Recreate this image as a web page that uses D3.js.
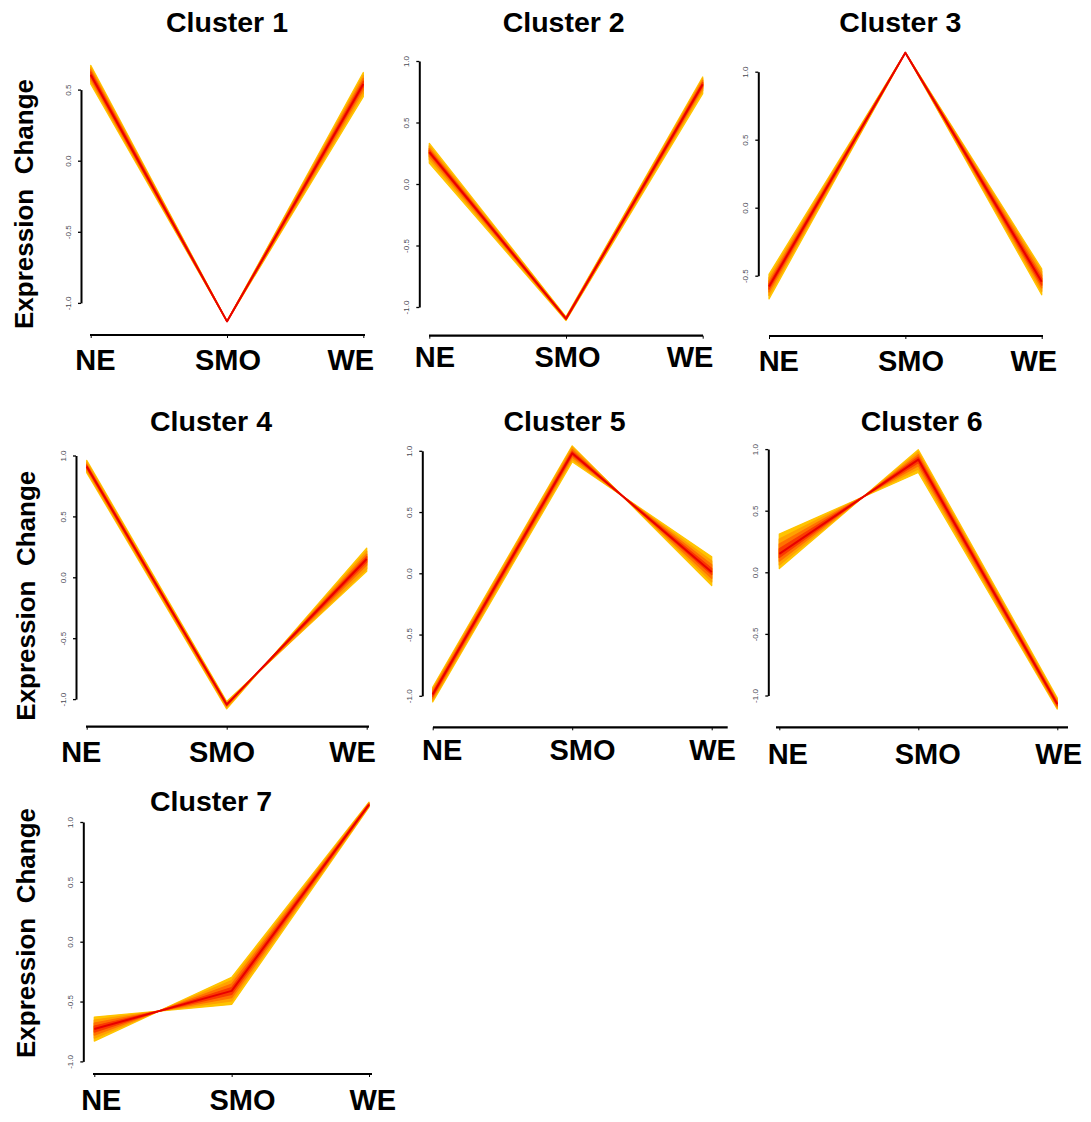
<!DOCTYPE html>
<html>
<head>
<meta charset="utf-8">
<script src="https://cdn.jsdelivr.net/npm/d3@7"></script>
<style>
  body { margin: 0; background: #fff; }
  svg { display: block; background: #fff; }
  text { font-family: "Liberation Sans", Arial, Helvetica, sans-serif; }
</style>
</head>
<body>
<svg id="chart" width="1091" height="1122"></svg>
<script>
// Time points on the x axis
const stages = ["NE", "SMO", "WE"];

const clusterNames = ["Cluster 1", "Cluster 2", "Cluster 3", "Cluster 4", "Cluster 5", "Cluster 6", "Cluster 7"];

// Y tick values of each panel
const yTicks = [
  [-1, -0.5, 0, 0.5],
  [-1, -0.5, 0, 0.5, 1],
  [-0.5, 0, 0.5, 1],
  [-1, -0.5, 0, 0.5, 1],
  [-1, -0.5, 0, 0.5, 1],
  [-1, -0.5, 0, 0.5, 1],
  [-1, -0.5, 0, 0.5, 1]
];

// Membership of each gene profile inside a cluster, edge -> core -> edge
const membership = [0.2, 0.4, 0.6, 0.8, 1.0, 0.8, 0.6, 0.4, 0.2];

// Expression profiles [NE, SMO, WE], ordered across the band
const cluster1 = [
  [0.67, -1.13, 0.62], [0.655, -1.13, 0.60], [0.64, -1.13, 0.58],
  [0.625, -1.13, 0.56], [0.605, -1.13, 0.54], [0.59, -1.13, 0.52],
  [0.575, -1.13, 0.50], [0.56, -1.13, 0.475], [0.54, -1.13, 0.45]
];
const cluster2 = [
  [0.33, -1.08, 0.87], [0.31, -1.085, 0.855], [0.29, -1.09, 0.84],
  [0.275, -1.09, 0.825], [0.26, -1.095, 0.81], [0.245, -1.10, 0.795],
  [0.225, -1.10, 0.78], [0.20, -1.105, 0.76], [0.17, -1.11, 0.735]
];
const cluster3 = [
  [-0.49, 1.14, -0.45], [-0.515, 1.14, -0.47], [-0.54, 1.14, -0.495],
  [-0.56, 1.14, -0.52], [-0.58, 1.14, -0.545], [-0.60, 1.14, -0.57],
  [-0.62, 1.14, -0.59], [-0.645, 1.14, -0.615], [-0.67, 1.14, -0.64]
];
const cluster4 = [
  [0.96, -1.02, 0.05], [0.945, -1.03, 0.07], [0.93, -1.035, 0.10],
  [0.92, -1.04, 0.125], [0.91, -1.045, 0.15], [0.90, -1.05, 0.17],
  [0.89, -1.06, 0.19], [0.875, -1.07, 0.215], [0.86, -1.08, 0.24]
];
const cluster5 = [
  [-0.93, 1.04, -0.10], [-0.945, 1.03, -0.07], [-0.96, 1.01, -0.04],
  [-0.975, 0.995, -0.01], [-0.99, 0.98, 0.01], [-1.005, 0.965, 0.04],
  [-1.02, 0.95, 0.07], [-1.035, 0.93, 0.10], [-1.05, 0.91, 0.135]
];
const cluster6 = [
  [0.31, 0.81, -1.11], [0.27, 0.84, -1.10], [0.23, 0.865, -1.09],
  [0.19, 0.89, -1.08], [0.15, 0.915, -1.07], [0.12, 0.935, -1.06],
  [0.09, 0.955, -1.05], [0.06, 0.975, -1.035], [0.03, 0.995, -1.02]
];
const cluster7 = [
  [-0.63, -0.524, 1.125], [-0.655, -0.495, 1.13], [-0.68, -0.467, 1.135],
  [-0.705, -0.439, 1.14], [-0.73, -0.411, 1.145], [-0.755, -0.383, 1.15],
  [-0.78, -0.354, 1.155], [-0.805, -0.326, 1.16], [-0.83, -0.298, 1.165]
];

const clusters = [cluster1, cluster2, cluster3, cluster4, cluster5, cluster6, cluster7];

// Panel placement in the page (pixels)
const layout = [
  { title: [227, 32],   axisX: 81,    yPx: [302.9, 89.6],  xPx: [90.7, 363.3],   xLine: [90, 365, 335],     labX: [95.5, 228, 350.8],   labY: 370,  yLab: [33, 204] },
  { title: [563.7, 32], axisX: 419.3, yPx: [307, 61],      xPx: [429.3, 702.7],  xLine: [429, 703, 335.7],  labX: [435, 567.5, 690],    labY: 367,  yLab: null },
  { title: [900.3, 32], axisX: 758.3, yPx: [275.7, 71.7],  xPx: [769, 1041.7],   xLine: [769, 1043, 336],   labX: [778.8, 911, 1033.8], labY: 371,  yLab: null },
  { title: [211, 430.7], axisX: 76,   yPx: [699.1, 455.5], xPx: [86.7, 366.7],   xLine: [86, 369, 726.7],   labX: [81.3, 222, 352.5],   labY: 761.7, yLab: [35, 595.7] },
  { title: [564.5, 430.7], axisX: 422.3, yPx: [695.8, 450.8], xPx: [432.7, 711.7], xLine: [433, 727.7, 727.3], labX: [442.2, 582.5, 712.5], labY: 760, yLab: null },
  { title: [921.7, 430.7], axisX: 768.3, yPx: [695.5, 449.1], xPx: [779.3, 1057.3], xLine: [776, 1068, 727.3], labX: [787.8, 927.7, 1058.7], labY: 764, yLab: null },
  { title: [211, 810.7], axisX: 83.3, yPx: [1061.4, 822],  xPx: [94.3, 369],     xLine: [93, 372, 1074],    labX: [101.3, 242.5, 372.8], labY: 1110, yLab: [35, 933] }
];

const svg = d3.select("#chart");

// Low membership in gold, high membership in red
const colour = d3.scaleLinear()
  .domain([0.2, 0.45, 0.75, 1])
  .range(["#FFC400", "#FF9800", "#FF4A00", "#E80000"]);

const fmt = d3.format(".1f");

layout.forEach((p, i) => {
  const ticks = yTicks[i];
  const profiles = clusters[i];
  const n = profiles.length;

  const x = d3.scalePoint().domain(stages).range(p.xPx);
  const y = d3.scaleLinear().domain(d3.extent(ticks)).range(p.yPx);
  const pt = (v, j) => [x(stages[j]), y(v)];

  const g = svg.append("g").attr("class", "panel");

  // Membership bands, outermost pair first so the core stays on top
  for (let k = 0; k < (n - 1) / 2; k++) {
    const upper = profiles[k].map(pt);
    const lower = profiles[n - 1 - k].map(pt).reverse();
    const c = colour(membership[k]);
    g.append("path")
      .attr("d", d3.line()(upper.concat(lower)) + "Z")
      .attr("fill", c)
      .attr("stroke", c)
      .attr("stroke-width", 1.3)
      .attr("stroke-linejoin", "round");
  }
  // Core profile
  const core = profiles[(n - 1) / 2];
  g.append("path")
    .attr("d", d3.line()(core.map(pt)))
    .attr("fill", "none")
    .attr("stroke", colour(membership[(n - 1) / 2]))
    .attr("stroke-width", 2)
    .attr("stroke-linejoin", "round");

  // Y axis
  const yAxis = d3.axisLeft(y)
    .tickValues(ticks)
    .tickSize(3)
    .tickSizeOuter(0)
    .tickFormat(d => fmt(d).replace("\u2212", "-"));
  const ag = g.append("g")
    .attr("transform", `translate(${p.axisX},0)`)
    .call(yAxis);
  ag.select(".domain").attr("stroke", "#000").attr("stroke-width", 2);
  ag.selectAll(".tick line").attr("stroke", "#000").attr("stroke-width", 1.3);
  ag.selectAll(".tick text")
    .attr("x", 0)
    .attr("dy", "0.35em")
    .attr("transform", "translate(-13,0) rotate(-90)")
    .attr("text-anchor", "middle")
    .attr("font-family", "'Liberation Sans', Arial, sans-serif")
    .attr("font-size", 8)
    .attr("fill", "#4a4a55");

  // X axis: ticks from the point scale, line across the panel
  const xAxis = d3.axisBottom(x).tickSize(3).tickSizeOuter(0).tickFormat("");
  const xg = g.append("g")
    .attr("transform", `translate(0,${p.xLine[2]})`)
    .call(xAxis);
  xg.select(".domain").remove();
  xg.selectAll(".tick line").attr("stroke", "#000").attr("stroke-width", 1);
  g.append("line")
    .attr("x1", p.xLine[0]).attr("x2", p.xLine[1])
    .attr("y1", p.xLine[2]).attr("y2", p.xLine[2])
    .attr("stroke", "#000")
    .attr("stroke-width", 2.2);

  g.selectAll("text.stage")
    .data(stages)
    .join("text")
    .attr("class", "stage")
    .attr("x", (d, j) => p.labX[j])
    .attr("y", p.labY)
    .attr("text-anchor", "middle")
    .attr("font-size", 29)
    .attr("font-weight", "bold")
    .attr("fill", "#000")
    .text(d => d);

  // Title
  g.append("text")
    .attr("x", p.title[0])
    .attr("y", p.title[1])
    .attr("text-anchor", "middle")
    .attr("font-size", 28.5)
    .attr("font-weight", "bold")
    .attr("fill", "#000")
    .text(clusterNames[i]);

  // Y axis title on the first panel of each row
  if (p.yLab) {
    g.append("text")
      .attr("transform", `translate(${p.yLab[0]},${p.yLab[1]}) rotate(-90)`)
      .attr("text-anchor", "middle")
      .attr("font-size", 26)
      .attr("font-weight", "bold")
      .attr("fill", "#000")
      .style("white-space", "pre")
      .text("Expression  Change");
  }
});
</script>
</body>
</html>
